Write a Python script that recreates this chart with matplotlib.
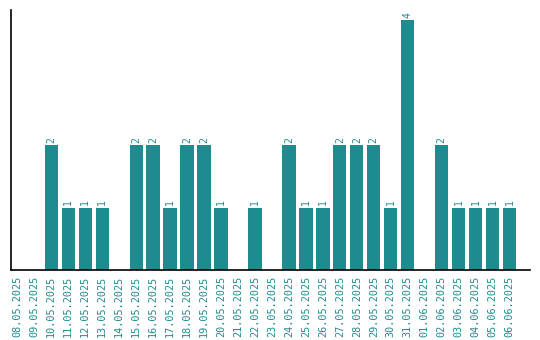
import matplotlib
matplotlib.use("Agg")
import matplotlib.pyplot as plt

dates = ["08.05.2025", "09.05.2025", "10.05.2025", "11.05.2025", "12.05.2025",
         "13.05.2025", "14.05.2025", "15.05.2025", "16.05.2025", "17.05.2025",
         "18.05.2025", "19.05.2025", "20.05.2025", "21.05.2025", "22.05.2025",
         "23.05.2025", "24.05.2025", "25.05.2025", "26.05.2025", "27.05.2025",
         "28.05.2025", "29.05.2025", "30.05.2025", "31.05.2025", "01.06.2025",
         "02.06.2025", "03.06.2025", "04.06.2025", "05.06.2025", "06.06.2025"]
counts = [0, 0, 2, 1, 1, 1, 0, 2, 2, 1, 2, 2, 1, 0, 1, 0, 2, 1, 1, 2, 2, 2, 1, 4, 0, 2, 1, 1, 1, 1]

color = "#1e8b8f"
fig = plt.figure(figsize=(5.4, 3.4), dpi=100)
ax = fig.add_axes([10.5 / 540, 70 / 340, (530 - 10.5) / 540, 260 / 340])
x = list(range(len(dates)))
ax.bar(x, counts, width=0.78, color=color)
for xi, v in zip(x, counts):
    if v > 0:
        ax.text(xi, v + 0.04, str(v), rotation=90, ha="center", va="bottom",
                color=color, fontsize=7, family="DejaVu Sans Mono")
ax.set_xlim(-0.4, 30.2)
ax.set_ylim(0, 4.16)
ax.set_xticks(x)
ax.set_xticklabels(dates, rotation=90, color=color, fontsize=7.3, family="DejaVu Sans Mono")
ax.tick_params(axis="x", length=0, pad=4)
ax.set_yticks([])
ax.spines["top"].set_visible(False)
ax.spines["right"].set_visible(False)
ax.spines["left"].set_linewidth(1.2)
ax.spines["bottom"].set_linewidth(1.2)
fig.savefig("out.png", dpi=100)
